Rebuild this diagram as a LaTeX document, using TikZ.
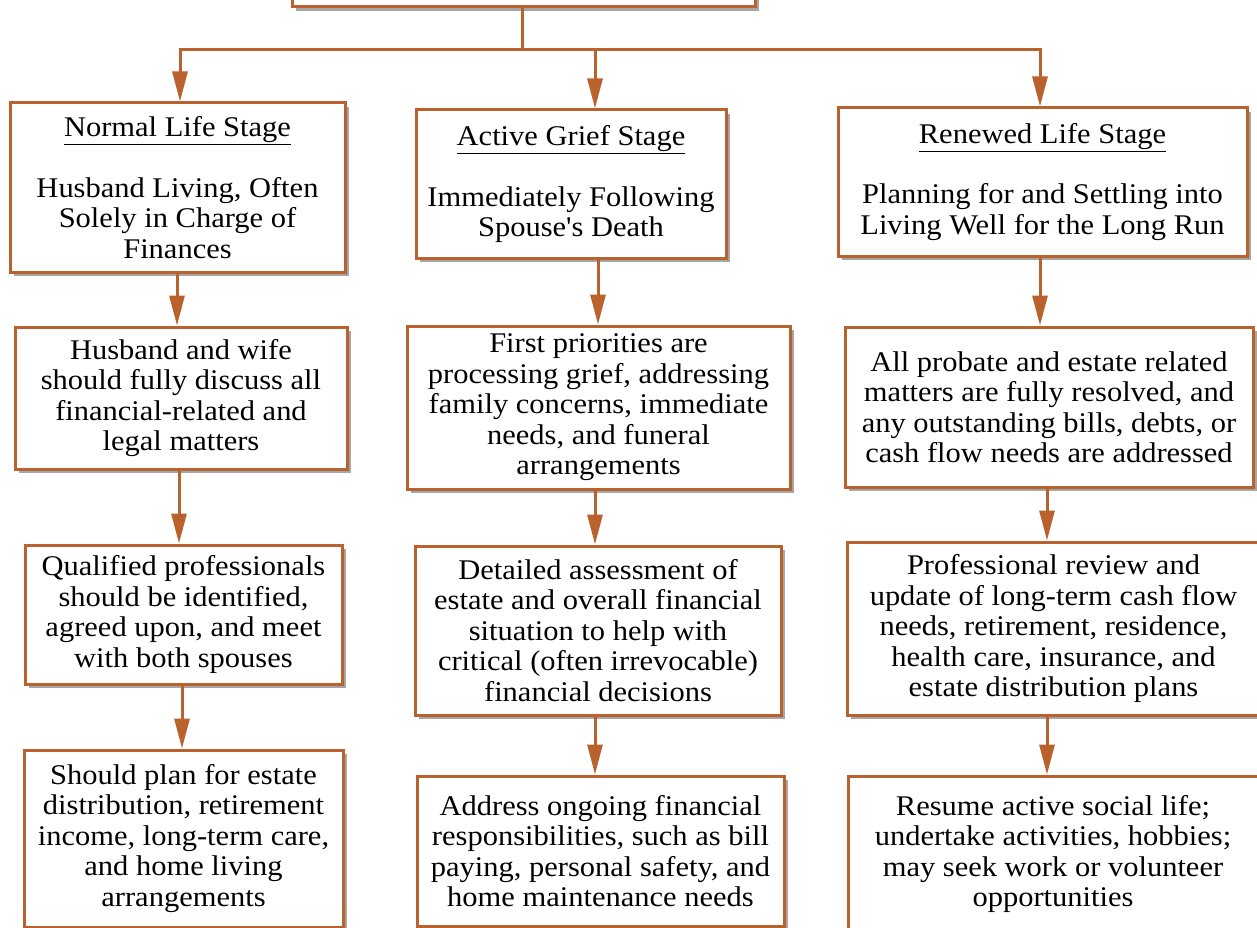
\documentclass[tikz,border=0pt]{standalone}
\usepackage{fontspec}
\setmainfont[FakeStretch=1.07,Ligatures=TeXOff]{Liberation Serif}
\usetikzlibrary{arrows.meta,shadows}
\definecolor{rust}{RGB}{185,98,45}
\tikzset{
  stagebox/.style={draw=rust, line width=3pt, fill=white, align=center, inner sep=0pt,
    font=\fontsize{28.5}{30.5}\selectfont,
    drop shadow={shadow xshift=4pt, shadow yshift=-4pt, fill=black, opacity=0.35}},
  link/.style={draw=rust, line width=3pt},
  arr/.style={link, -{Triangle[length=30pt,width=15pt]}},
}
\newcommand\bx[6]{\node[stagebox, minimum width={#4-#2}, minimum height={#5-#3}] (#1) at ({(#2+#4)/2},{(#3+#5)/2}) {#6};}
\begin{document}
\begin{tikzpicture}[x=1pt,y=-1pt]
\clip (0,0) rectangle (1257,928);
\fill[white] (0,0) rectangle (1257,928);
\bx{top}{292}{-60}{755}{7}{}
\bx{L1}{10}{103}{345}{272}{\underline{Normal Life Stage}\\[30pt]Husband Living, Often\\Solely in Charge of\\Finances}
\bx{L2}{15}{327}{347}{469}{Husband and wife\\should fully discuss all\\financial-related and\\legal matters}
\bx{L3}{25}{545}{342}{684}{Qualified professionals\\should be identified,\\agreed upon, and meet\\with both spouses}
\bx{L4}{24}{750}{343}{927}{Should plan for estate\\distribution, retirement\\income, long-term care,\\and home living\\arrangements}
\bx{M1}{416}{110}{726}{258}{\underline{Active Grief Stage}\\[30pt]Immediately Following\\Spouse's Death}
\bx{M2}{407}{326}{790}{489}{First priorities are\\processing grief, addressing\\family concerns, immediate\\needs, and funeral\\arrangements}
\bx{M3}{415}{546}{781}{715}{Detailed assessment of\\estate and overall financial\\situation to help with\\critical (often irrevocable)\\financial decisions}
\bx{M4}{417}{776}{784}{926}{Address ongoing financial\\responsibilities, such as bill\\paying, personal safety, and\\home maintenance needs}
\bx{R1}{838}{108}{1247}{256}{\underline{Renewed Life Stage}\\[30pt]Planning for and Settling into\\Living Well for the Long Run}
\bx{R2}{845}{327}{1253}{487}{All probate and estate related\\matters are fully resolved, and\\any outstanding bills, debts, or\\cash flow needs are addressed}
\bx{R3}{847}{542}{1260}{715}{Professional review and\\update of long-term cash flow\\needs, retirement, residence,\\health care, insurance, and\\estate distribution plans}
\bx{R4}{848}{776}{1258}{932}{Resume active social life;\\undertake activities, hobbies;\\may seek work or volunteer\\opportunities}
% junction and arrow x positions
\coordinate (stem) at (522,0);
\coordinate (j) at (522,50);
\coordinate (xL0) at (180,0);
\coordinate (xM0) at (595,0);
\coordinate (xR0) at (1040,0);
\coordinate (xL1) at (177,0);
\coordinate (xL2) at (179,0);
\coordinate (xL3) at (182,0);
\coordinate (xM1) at (598,0);
\coordinate (xM2) at (595,0);
\coordinate (xM3) at (595,0);
\coordinate (xR1) at (1040,0);
\coordinate (xR2) at (1047,0);
\coordinate (xR3) at (1047,0);
\draw[link] (top.south -| stem) -- (j);
\draw[arr] (j) -| (L1.north -| xL0);
\draw[arr] (j) -| (M1.north -| xM0);
\draw[arr] (j) -| (R1.north -| xR0);
\draw[arr] (L1.south -| xL1) -- (L2.north -| xL1);
\draw[arr] (L2.south -| xL2) -- (L3.north -| xL2);
\draw[arr] (L3.south -| xL3) -- (L4.north -| xL3);
\draw[arr] (M1.south -| xM1) -- (M2.north -| xM1);
\draw[arr] (M2.south -| xM2) -- (M3.north -| xM2);
\draw[arr] (M3.south -| xM3) -- (M4.north -| xM3);
\draw[arr] (R1.south -| xR1) -- (R2.north -| xR1);
\draw[arr] (R2.south -| xR2) -- (R3.north -| xR2);
\draw[arr] (R3.south -| xR3) -- (R4.north -| xR3);
\end{tikzpicture}
\end{document}
